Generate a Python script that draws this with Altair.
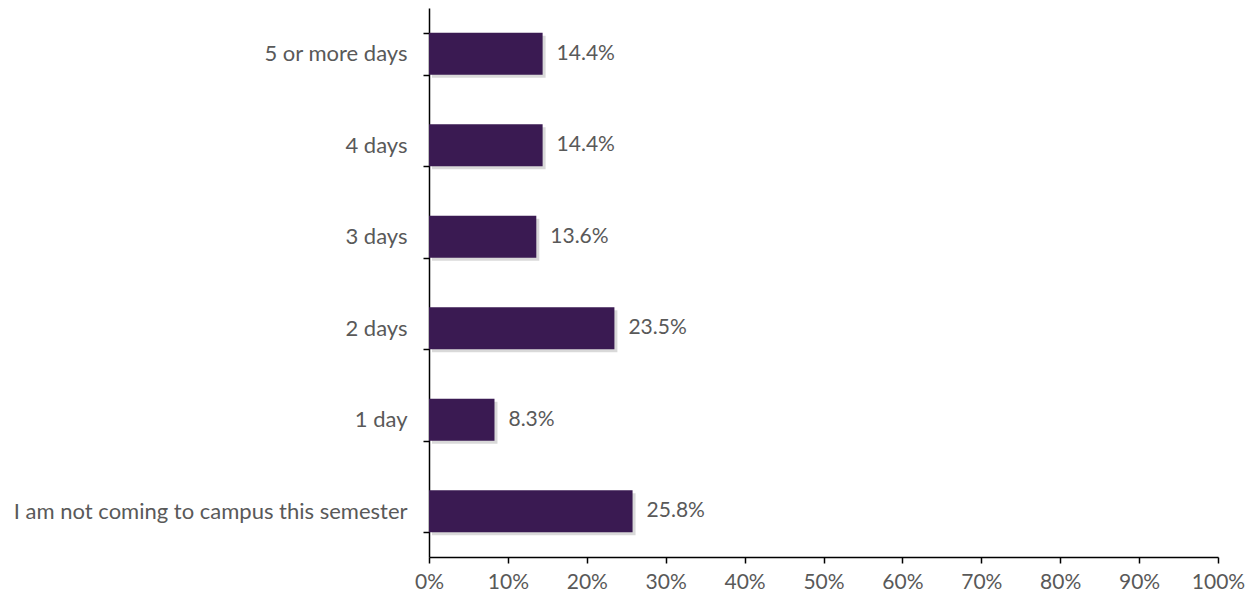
import altair as alt
import pandas as pd

categories = ["5 or more days", "4 days", "3 days", "2 days", "1 day",
              "I am not coming to campus this semester"]
values = [14.4, 14.4, 13.6, 23.5, 8.3, 25.8]
labels = ["14.4%", "14.4%", "13.6%", "23.5%", "8.3%", "25.8%"]

df = pd.DataFrame({"cat": categories, "val": [v / 100 for v in values], "lab": labels})

FONT = "Lato"
GRAY = "#595959"
FS = 21

y = alt.Y("cat:N", sort=categories, title=None,
          scale=alt.Scale(paddingInner=0.54, paddingOuter=0.27),
          axis=alt.Axis(tickBand="extent", labelFontSize=22, labelColor=GRAY,
                        labelFont=FONT, labelPadding=16, tickSize=6, labelLimit=0,
                        domainColor="black", tickColor="black", domainWidth=1.5, tickWidth=1.5))
x = alt.X("val:Q", title=None,
          scale=alt.Scale(domain=[0, 1], nice=False),
          axis=alt.Axis(format=".0%", values=[i / 10 for i in range(11)], grid=False,
                        labelFlush=False,
                        labelFontSize=FS, labelColor=GRAY, labelFont=FONT, labelPadding=8,
                        tickSize=6, domainColor="black", tickColor="black",
                        domainWidth=1.5, tickWidth=1.5))

base = alt.Chart(df)
shadow = base.mark_bar(color="#000000", opacity=0.15, xOffset=3, yOffset=3).encode(x=x, y=y)
bars = base.mark_bar(color="#3A1A52").encode(x=x, y=y)
text = base.mark_text(align="left", baseline="middle", dx=14, fontSize=FS,
                      font=FONT, color=GRAY).encode(x=x, y=y, text="lab:N")

chart = (shadow + bars + text).properties(
    width=789, height=549,
    autosize=alt.AutoSizeParams(type="none"),
    padding={"left": 421, "top": 0, "right": 30, "bottom": 40},
).configure_view(stroke=None)

chart.save("out.html", embed_options={"renderer": "svg", "actions": False})
